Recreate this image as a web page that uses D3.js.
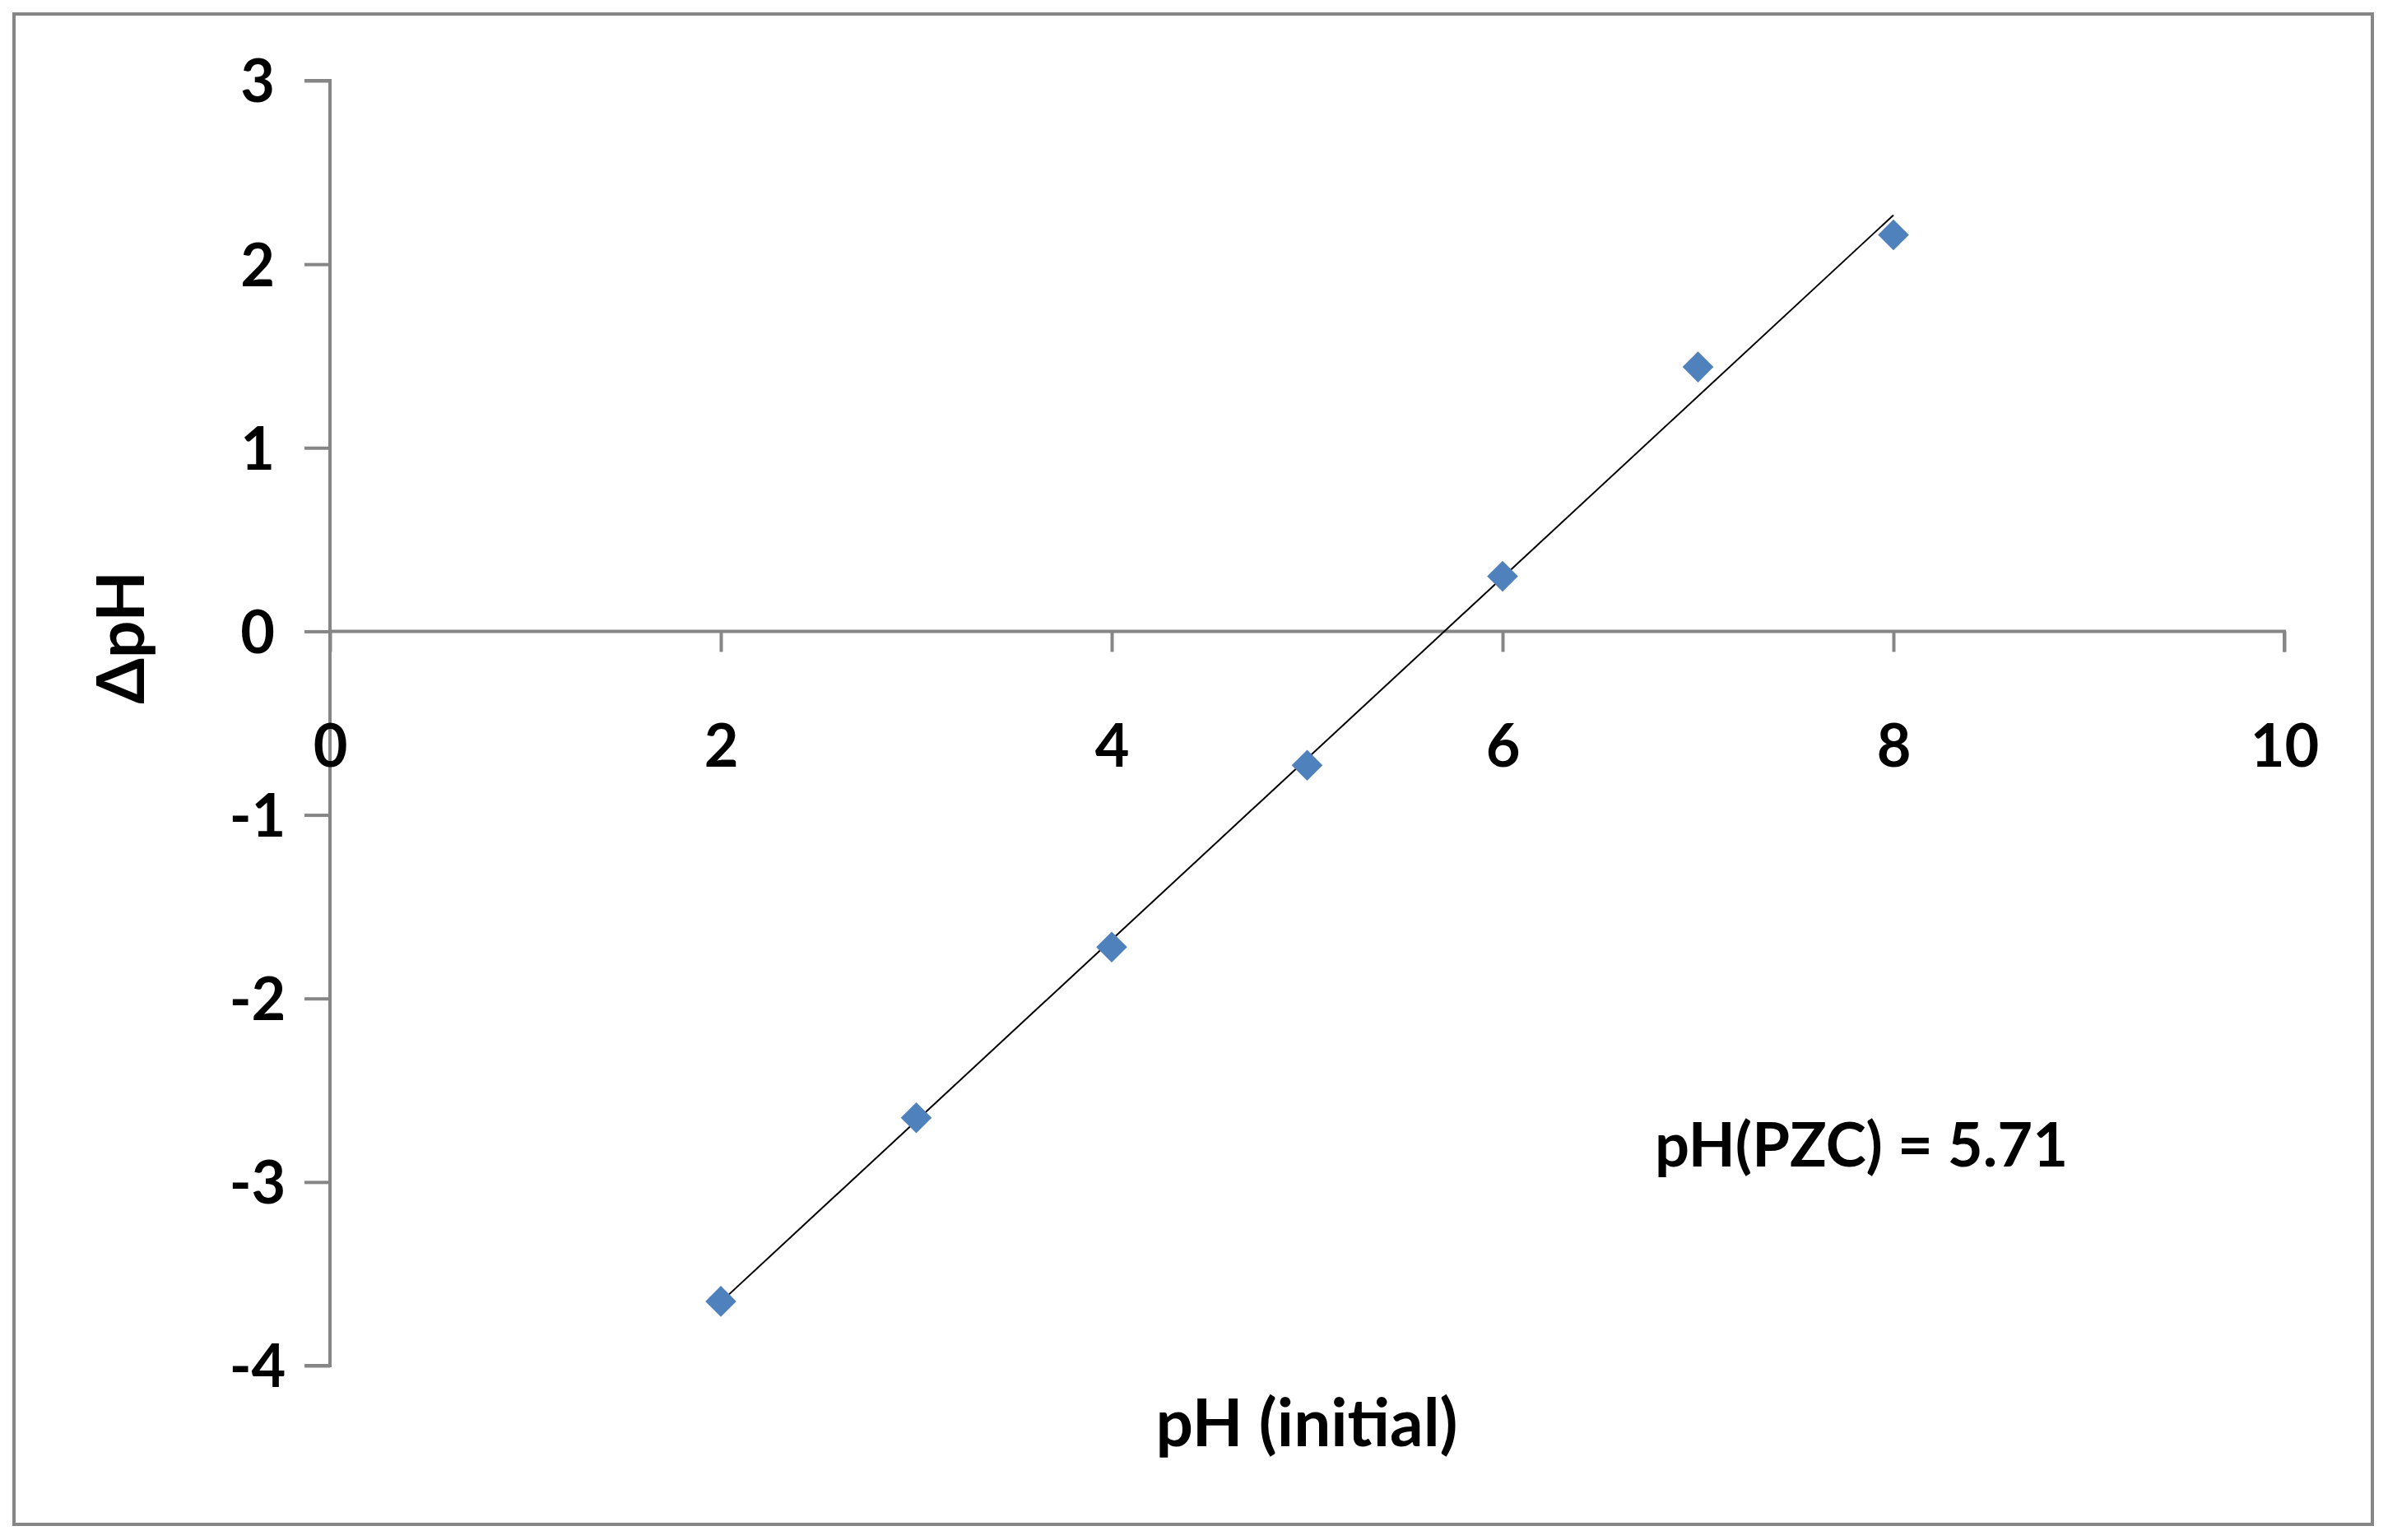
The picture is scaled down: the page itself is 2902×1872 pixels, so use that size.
<!DOCTYPE html>
<html><head><meta charset="utf-8">
<script src="https://cdn.jsdelivr.net/npm/d3@7"></script>
<style>body{margin:0;background:#fff}svg{display:block}text{font-family:Lato,"Open Sans",sans-serif;font-weight:bold;fill:#000}</style>
</head><body><svg id="c" width="2902" height="1872"></svg>
<script>
const phInitial=[2,3,4,5,6,7,8];
const deltaPH=[-3.65,-2.65,-1.72,-0.73,0.30,1.44,2.16];
const xTicks=[0,2,4,6,8,10];
const yTicks=[-4,-3,-2,-1,0,1,2,3];
const annotation="pH(PZC) = 5.71";

const svg=d3.select("#c");
svg.append("rect").attr("x",17).attr("y",17).attr("width",2866).attr("height",1836).attr("fill","#fff").attr("stroke","#868686").attr("stroke-width",4);
const x=d3.scaleLinear().domain([0,10]).range([401,2776]);
const y=d3.scaleLinear().domain([-4,3]).range([1660,98]);
const gray="#868686";
const fmt=d=>String(d);
const ya=svg.append("g").attr("transform",`translate(${x(0)},0)`).call(d3.axisLeft(y).tickValues(yTicks).tickSize(31).tickFormat(fmt));
ya.select(".domain").attr("stroke",gray).attr("stroke-width",4).attr("d",`M-31,${y(3)}H0V${y(-4)}H-31`);
ya.selectAll(".tick line").attr("stroke",gray).attr("stroke-width",4);
ya.selectAll(".tick text").attr("x",-88).attr("text-anchor","middle").attr("font-size",72).attr("dy","0.36em");
const xa=svg.append("g").attr("transform",`translate(0,${y(0)})`).call(d3.axisBottom(x).tickValues(xTicks).tickSize(25).tickFormat(fmt));
xa.select(".domain").attr("stroke",gray).attr("stroke-width",4).attr("d",`M${x(0)},0H${x(10)}V25`);
xa.selectAll(".tick line").attr("stroke",gray).attr("stroke-width",4);
xa.selectAll(".tick text").attr("y",165).attr("font-size",72).attr("dy",0);
const mx=d3.mean(phInitial),my=d3.mean(deltaPH);
const b=d3.sum(phInitial,(v,i)=>(v-mx)*(deltaPH[i]-my))/d3.sum(phInitial,v=>(v-mx)**2);
const a=my-b*mx;
svg.append("line").attr("x1",x(2)).attr("y1",y(a+b*2)).attr("x2",x(8)).attr("y2",y(a+b*8)).attr("stroke","#000").attr("stroke-width",2);
svg.selectAll("path.pt").data(phInitial).join("path").attr("class","pt")
 .attr("d",d3.symbol(d3.symbolDiamond2,900)).attr("fill","#4F81BD")
 .attr("transform",(d,i)=>`translate(${x(d)},${y(deltaPH[i])})`);
svg.append("text").attr("transform",`translate(175,775) rotate(-90)`).attr("text-anchor","middle").attr("font-size",80).text("ΔpH");
svg.append("text").attr("x",1588).attr("y",1758).attr("text-anchor","middle").attr("font-size",80).text("pH (initial)");
svg.append("text").attr("x",2262).attr("y",1418).attr("text-anchor","middle").attr("font-size",74).text(annotation);
</script></body></html>
